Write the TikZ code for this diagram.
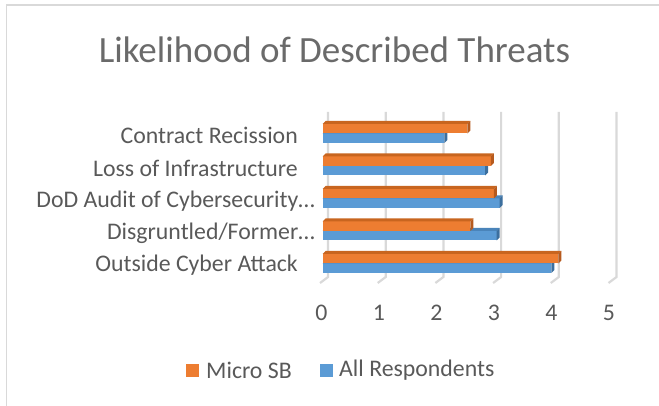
\documentclass[tikz,border=0pt]{standalone}
\usepackage{fontspec}
\setmainfont{Carlito}
\definecolor{txt}{HTML}{595959}
\definecolor{gridc}{HTML}{D9D9D9}
\definecolor{frame}{HTML}{D9D9D9}
\definecolor{orng}{HTML}{ED7D31}
\definecolor{orngdark}{HTML}{B65A1E}
\definecolor{orngtop}{HTML}{C8651F}
\definecolor{blu}{HTML}{5B9BD5}
\definecolor{bludark}{HTML}{3C6F9E}
\definecolor{blutop}{HTML}{4A84BA}
\newcommand\drawbar[4]{%
  \pgfmathsetmacro\xe{322.5+57.5*#3}%
  \fill[#4] (322.5,#1) rectangle (\xe,#2);
  \fill[#4top] (322.5,#1) -- (325.5,#1-3) -- (\xe+3,#1-3) -- (\xe,#1) -- cycle;
  \fill[#4dark] (\xe,#1) -- (\xe+3,#1-3) -- (\xe+3,#2-3) -- (\xe,#2) -- cycle;
}
\begin{document}
\begin{tikzpicture}[x=1pt,y=-1pt,
  lbl/.style={text=txt,inner sep=0pt,font=\fontsize{23.8}{24}\selectfont},
  tick/.style={text=txt,inner sep=0pt,font=\fontsize{23.8}{24}\selectfont},
  gline/.style={draw=gridc,line width=2.2pt},
  key/.style={minimum size=13pt,inner sep=0pt}]
\useasboundingbox (0,0) rectangle (659,406);
% frame
\draw[frame,line width=1.6pt] (6.5,406) -- (6.5,5) -- (659,5);
% title
\node[text=txt!90,inner sep=0pt,font=\fontsize{37}{37}\selectfont] (title) at (334.5,50) {Likelihood of Described Threats};
% gridlines (back wall)
\foreach \k in {0,...,5}{
  \draw[gline] (328+57.7*\k,112) -- (328+57.7*\k,277) -- (320+57.7*\k,283);
}
% bars: top y of orange front face
\foreach \T/\o/\b in {124/2.52/2.12, 156.5/2.93/2.83, 189/2.98/3.08, 221.5/2.57/3.03, 254/4.10/3.98}{
  \drawbar{\T+9.5}{\T+19}{\b}{blu}
  \drawbar{\T}{\T+9.5}{\o}{orng}
}
% category labels
\node[lbl,anchor=east] (c1) at (298,135) {Contract Recission};
\node[lbl,anchor=east] (c2) at (298,168) {Loss of Infrastructure};
\node[lbl,anchor=east] (c3) at (315,201) {DoD Audit of Cybersecurity…};
\node[lbl,anchor=east] (c4) at (315,233) {Disgruntled/Former…};
\node[lbl,anchor=east] (c5) at (298,265) {Outside Cyber Attack};
% axis numbers
\foreach \k in {0,...,5}{
  \node[tick] (t\k) at (321.5+57.5*\k,313) {\k};
}
% legend
\node[key,fill=orng] (k1) at (192.5,370) {};
\node[lbl,anchor=west] (l1) at (206,370) {Micro SB};
\node[key,fill=blu] (k2) at (326,370) {};
\node[lbl,anchor=west] (l2) at (339,370) {All Respondents};
\end{tikzpicture}
\end{document}
